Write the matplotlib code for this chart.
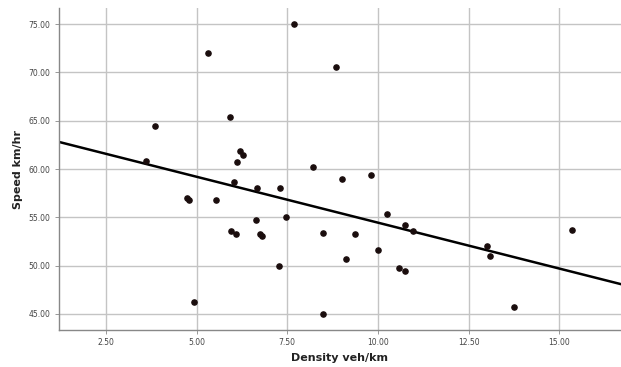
import numpy as np
import matplotlib
matplotlib.use("Agg")
import matplotlib.pyplot as plt

# density (veh/km) vs speed (km/hr)
density = [7.70, 5.31, 8.84, 3.85, 5.92, 6.19, 6.27, 6.11, 3.60, 8.20,
           9.00, 9.80, 6.03, 6.66, 7.29, 4.73, 4.79, 5.55, 7.46, 6.63,
           5.94, 6.08, 6.74, 6.80, 7.27, 4.92, 8.48, 9.36, 10.24, 10.74,
           10.98, 9.99, 9.11, 10.57, 10.74, 13.00, 13.08, 15.36, 13.74, 8.48]
speed = [75.0, 72.0, 70.55, 64.45, 65.4, 61.9, 61.45, 60.75, 60.8, 60.2,
         59.0, 59.4, 58.65, 58.0, 58.0, 57.0, 56.8, 56.8, 55.0, 54.7,
         53.6, 53.3, 53.3, 53.1, 50.0, 46.25, 53.4, 53.3, 55.35, 54.2,
         53.6, 51.6, 50.7, 49.8, 49.45, 52.0, 51.0, 53.7, 45.75, 45.0]

# fit line (intercept, slope)
fit_intercept = 63.95
fit_slope = -0.95

x_ticks = [2.5, 5.0, 7.5, 10.0, 12.5, 15.0]
y_ticks = [45, 50, 55, 60, 65, 70, 75]

fig = plt.figure(figsize=(6.21, 3.67), dpi=100)
ax = fig.add_axes([0.095, 0.101, 0.905, 0.877])

ax.set_xlim(1.21, 16.7)
ax.set_ylim(43.35, 76.65)

ax.set_xticks(x_ticks)
ax.set_yticks(y_ticks)
ax.set_xticklabels([f"{v:.2f}" for v in x_ticks], fontsize=5.5, color="#444444")
ax.set_yticklabels([f"{v:.2f}" for v in y_ticks], fontsize=5.5, color="#444444")
ax.grid(True, color="#c4c4c4", linewidth=1.0)
ax.set_axisbelow(True)
ax.tick_params(length=3, width=0.6, color="#888888", pad=3)

for s in ["top", "right"]:
    ax.spines[s].set_visible(False)
for s in ["left", "bottom"]:
    ax.spines[s].set_color("#888888")
    ax.spines[s].set_linewidth(1.0)

xs = np.array([1.21, 16.7])
ax.plot(xs, fit_intercept + fit_slope * xs, color="black", linewidth=1.8, zorder=2)
ax.scatter(density, speed, s=14, color="#1a0d0d", zorder=3)

ax.set_xlabel("Density veh/km", fontsize=8, fontweight="bold", color="#222222", labelpad=4)
ax.set_ylabel("Speed km/hr", fontsize=8, fontweight="bold", color="#222222", labelpad=4)

fig.savefig("out.png", dpi=100)
